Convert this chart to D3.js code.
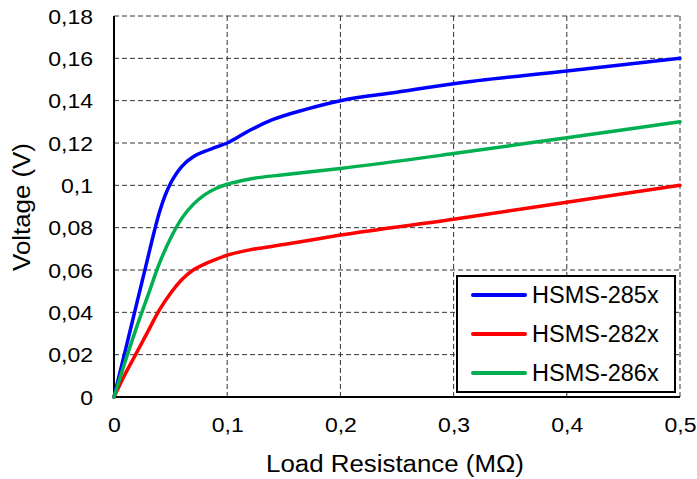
<!DOCTYPE html>
<html><head><meta charset="utf-8">
<script src="https://cdn.jsdelivr.net/npm/d3@7"></script>
<style>body{margin:0;background:#fff}svg{display:block;font-family:"Liberation Sans",Arial,sans-serif}</style>
</head><body><svg id="c" width="697" height="479"></svg>
<script>
const seriesNames = ["HSMS-285x", "HSMS-282x", "HSMS-286x"];
const seriesColors = ["#0000ff", "#ff0000", "#00b050"];
const xTicks = [0, 0.1, 0.2, 0.3, 0.4, 0.5];
const yTicks = [0, 0.02, 0.04, 0.06, 0.08, 0.1, 0.12, 0.14, 0.16, 0.18];
const hsms285x = [[0,0],[0.01,0.022],[0.02,0.044],[0.03,0.066],[0.035,0.077],[0.04,0.087],[0.045,0.095],[0.05,0.101],[0.055,0.1055],[0.06,0.109],[0.07,0.1135],[0.08,0.116],[0.09,0.118],[0.1,0.120],[0.12,0.126],[0.14,0.131],[0.17,0.136],[0.2,0.14],[0.25,0.144],[0.3,0.148],[0.4,0.154],[0.5,0.16]];
const hsms282x = [[0,0],[0.01,0.011],[0.02,0.021],[0.03,0.031],[0.04,0.041],[0.05,0.049],[0.06,0.0555],[0.07,0.060],[0.08,0.0628],[0.09,0.065],[0.1,0.067],[0.12,0.0695],[0.15,0.072],[0.2,0.0765],[0.3,0.084],[0.4,0.092],[0.5,0.1]];
const hsms286x = [[0,0],[0.01,0.017],[0.02,0.033],[0.03,0.048],[0.04,0.063],[0.05,0.075],[0.06,0.0845],[0.07,0.091],[0.08,0.0955],[0.09,0.0985],[0.1,0.1005],[0.12,0.103],[0.15,0.105],[0.2,0.108],[0.3,0.115],[0.4,0.1225],[0.5,0.13]];
const seriesData = [hsms285x, hsms282x, hsms286x];

const svg = d3.select("#c");
const L = 114, R = 680, T = 16, B = 397;
const x = d3.scaleLinear().domain([0, 0.5]).range([L, R]);
const y = d3.scaleLinear().domain([0, 0.18]).range([B, T]);
const fmt = d => String(+d.toFixed(2)).replace(".", ",");
const stretch = (sel, k) => sel.each(function () {
  const w = this.getComputedTextLength();
  d3.select(this).attr("textLength", w * k).attr("lengthAdjust", "spacingAndGlyphs");
});

// grid
const g = svg.append("g");
g.selectAll("line.gx").data(xTicks.filter(d => d > 0)).join("line")
  .attr("x1", d => x(d)).attr("x2", d => x(d)).attr("y1", T).attr("y2", B)
  .attr("stroke", "#333").attr("stroke-width", 1).attr("stroke-dasharray", "5,3");
g.selectAll("line.gy").data(yTicks.filter(d => d > 0)).join("line")
  .attr("x1", L).attr("x2", R).attr("y1", d => y(d)).attr("y2", d => y(d))
  .attr("stroke", "#333").attr("stroke-width", 1).attr("stroke-dasharray", "5,3");

// axes
const xAxis = d3.axisBottom(x).tickValues(xTicks).tickFormat(fmt).tickSize(0).tickPadding(21);
const yAxis = d3.axisLeft(y).tickValues(yTicks).tickFormat(fmt).tickSize(0).tickPadding(21);
const ga = svg.append("g").attr("transform", `translate(0,${B})`).call(xAxis);
const gy = svg.append("g").attr("transform", `translate(${L},0)`).call(yAxis);
[ga, gy].forEach(a => {
  a.select(".domain").remove();
  a.selectAll("text").attr("font-size", 20).attr("fill", "#000")
    .attr("font-family", "Liberation Sans, Arial, sans-serif").call(stretch, 1.15);
});
gy.selectAll("text").attr("dy", "0.36em");
svg.append("line").attr("x1", L).attr("x2", L).attr("y1", T).attr("y2", B + 1).attr("stroke", "#000").attr("stroke-width", 2);
svg.append("line").attr("x1", L - 1).attr("x2", R).attr("y1", B).attr("y2", B).attr("stroke", "#000").attr("stroke-width", 2);

// lines
const line = d3.line().x(d => x(d[0])).y(d => y(d[1])).curve(d3.curveMonotoneX);
svg.append("g").selectAll("path").data(seriesData).join("path")
  .attr("d", line).attr("fill", "none")
  .attr("stroke", (d, i) => seriesColors[i]).attr("stroke-width", 3.5)
  .attr("stroke-linejoin", "round").attr("stroke-linecap", "round");

// labels
svg.append("text").attr("x", 395).attr("y", 472).attr("text-anchor", "middle")
  .attr("font-size", 23.5).text("Load Resistance (MΩ)").call(stretch, 1.1);
svg.append("text").attr("transform", "translate(30,207) rotate(-90)").attr("text-anchor", "middle")
  .attr("font-size", 23.5).text("Voltage (V)").call(stretch, 1.1);

// legend
const lg = svg.append("g");
lg.append("rect").attr("x", 457).attr("y", 276).attr("width", 218).attr("height", 116)
  .attr("fill", "#fff").attr("stroke", "#000").attr("stroke-width", 2);
const rows = [295, 334, 373];
seriesNames.forEach((n, i) => {
  lg.append("line").attr("x1", 473).attr("x2", 525).attr("y1", rows[i]).attr("y2", rows[i])
    .attr("stroke", seriesColors[i]).attr("stroke-width", 4).attr("stroke-linecap", "round");
  lg.append("text").attr("x", 532).attr("y", rows[i] + 8).attr("font-size", 23.5).text(n);
});
</script></body></html>
